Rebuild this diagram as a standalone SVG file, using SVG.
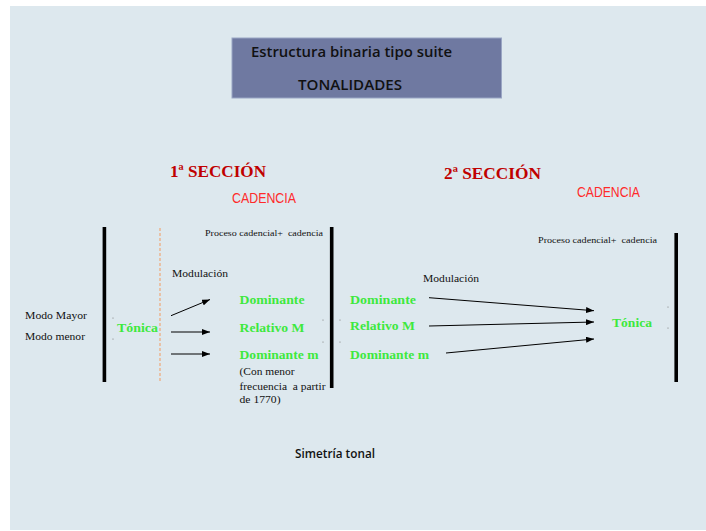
<svg xmlns="http://www.w3.org/2000/svg" width="706" height="531" viewBox="0 0 706 531">
<defs>
<marker id="ah" markerWidth="8" markerHeight="6" refX="8" refY="3" orient="auto" markerUnits="userSpaceOnUse">
<path d="M0,0 L8,3 L0,6 Z" fill="#000"/>
</marker>
<style>
.ser{font-family:"Liberation Serif","Times New Roman",serif;fill:#111;white-space:pre}
.grn{font-family:"Liberation Serif","Times New Roman",serif;font-weight:bold;fill:#3ee83e;font-size:13.5px}
.sec{font-family:"Liberation Serif","Times New Roman",serif;font-weight:bold;fill:#c00000;font-size:17px}
.cad{font-family:"Liberation Sans",Arial,sans-serif;fill:#ff2a2a;font-size:14px}
.sans{font-family:"Open Sans","Liberation Sans",Arial,sans-serif;font-weight:600;fill:#111}
.bar{stroke:#000;stroke-width:3.6}
.arr{stroke:#000;stroke-width:1;fill:none;marker-end:url(#ah)}
.dot{fill:#777}
</style>
</defs>
<rect x="0" y="0" width="706" height="531" fill="#fff"/>
<rect x="10" y="6" width="696" height="524" fill="#dde8ee"/>

<g id="title">
<rect x="232" y="38" width="269.5" height="60" fill="#6f79a1" stroke="#9aa6c4" stroke-width="1"/>
<text class="sans" x="251" y="57" font-size="15" textLength="201" lengthAdjust="spacingAndGlyphs">Estructura binaria tipo suite</text>
<text class="sans" x="298" y="90" font-size="15" textLength="104" lengthAdjust="spacingAndGlyphs">TONALIDADES</text>
</g>

<g id="sec1-header">
<text class="sec" x="170" y="177" textLength="96" lengthAdjust="spacingAndGlyphs">1ª SECCIÓN</text>
<text class="cad" x="232" y="203" textLength="64" lengthAdjust="spacingAndGlyphs">CADENCIA</text>
</g>
<g id="sec2-header">
<text class="sec" x="444" y="179" textLength="97" lengthAdjust="spacingAndGlyphs">2ª SECCIÓN</text>
<text class="cad" x="577" y="196.5" textLength="63" lengthAdjust="spacingAndGlyphs">CADENCIA</text>
</g>

<g id="bars">
<line class="bar" x1="104.4" y1="227" x2="104.4" y2="382"/>
<line x1="160" y1="228" x2="160" y2="382" stroke="#f39a5e" stroke-width="1" stroke-dasharray="3,2"/>
<line class="bar" x1="331.7" y1="227" x2="331.7" y2="388"/>
<line class="bar" x1="676.2" y1="233" x2="676.2" y2="382"/>
</g>

<g id="modos">
<text class="ser" x="25" y="319" font-size="11" textLength="62" lengthAdjust="spacingAndGlyphs">Modo Mayor</text>
<text class="ser" x="25" y="340" font-size="11" textLength="60" lengthAdjust="spacingAndGlyphs">Modo menor</text>
</g>

<g id="tonica1">
<text class="grn" x="117" y="332" textLength="41" lengthAdjust="spacingAndGlyphs">Tónica</text>
</g>

<g id="labels1">
<text class="ser" x="205" y="236" font-size="9" textLength="118" lengthAdjust="spacingAndGlyphs" xml:space="preserve">Proceso cadencial+  cadencia</text>
<text class="ser" x="172" y="277" font-size="11" textLength="56" lengthAdjust="spacingAndGlyphs">Modulación</text>
</g>

<g id="col1">
<text class="grn" x="239.5" y="303.5" textLength="65" lengthAdjust="spacingAndGlyphs">Dominante</text>
<text class="grn" x="239.5" y="332" textLength="65" lengthAdjust="spacingAndGlyphs">Relativo M</text>
<text class="grn" x="239.5" y="358.5" textLength="79" lengthAdjust="spacingAndGlyphs">Dominante m</text>
<text class="ser" x="239.5" y="375" font-size="11" textLength="55" lengthAdjust="spacingAndGlyphs">(Con menor</text>
<text class="ser" x="239.5" y="390" font-size="11" textLength="86" lengthAdjust="spacingAndGlyphs" xml:space="preserve">frecuencia  a partir</text>
<text class="ser" x="239.5" y="403" font-size="11" textLength="41" lengthAdjust="spacingAndGlyphs">de 1770)</text>
</g>

<g id="col2">
<text class="grn" x="350" y="303.5" textLength="66" lengthAdjust="spacingAndGlyphs">Dominante</text>
<text class="grn" x="350" y="329.5" textLength="65" lengthAdjust="spacingAndGlyphs">Relativo M</text>
<text class="grn" x="350" y="358.5" textLength="79" lengthAdjust="spacingAndGlyphs">Dominante m</text>
</g>

<g id="labels2">
<text class="ser" x="538" y="243" font-size="9" textLength="119" lengthAdjust="spacingAndGlyphs" xml:space="preserve">Proceso cadencial+  cadencia</text>
<text class="ser" x="423" y="282" font-size="11" textLength="56" lengthAdjust="spacingAndGlyphs">Modulación</text>
</g>

<g id="tonica2">
<text class="grn" x="612" y="327" textLength="40" lengthAdjust="spacingAndGlyphs">Tónica</text>
</g>

<g id="dots">
<circle class="dot" cx="113" cy="318" r="0.6"/>
<circle class="dot" cx="113" cy="339" r="0.6"/>
<circle class="dot" cx="323" cy="320" r="0.6"/>
<circle class="dot" cx="323" cy="342" r="0.6"/>
<circle class="dot" cx="340" cy="320" r="0.6"/>
<circle class="dot" cx="340" cy="342" r="0.6"/>
<circle class="dot" cx="668" cy="307" r="0.6"/>
<circle class="dot" cx="668" cy="328" r="0.6"/>
</g>

<g id="connectors">
<line class="arr" x1="171" y1="315.7" x2="210" y2="299.5"/>
<line class="arr" x1="171" y1="332" x2="210" y2="332"/>
<line class="arr" x1="171" y1="354" x2="210" y2="354"/>
<line class="arr" x1="429" y1="297.7" x2="594" y2="310.7"/>
<line class="arr" x1="429" y1="326" x2="594" y2="322"/>
<line class="arr" x1="446" y1="353" x2="594" y2="339"/>
</g>

<g id="footer">
<text class="sans" x="295" y="458" font-size="12" textLength="80" lengthAdjust="spacingAndGlyphs">Simetría tonal</text>
</g>
</svg>
